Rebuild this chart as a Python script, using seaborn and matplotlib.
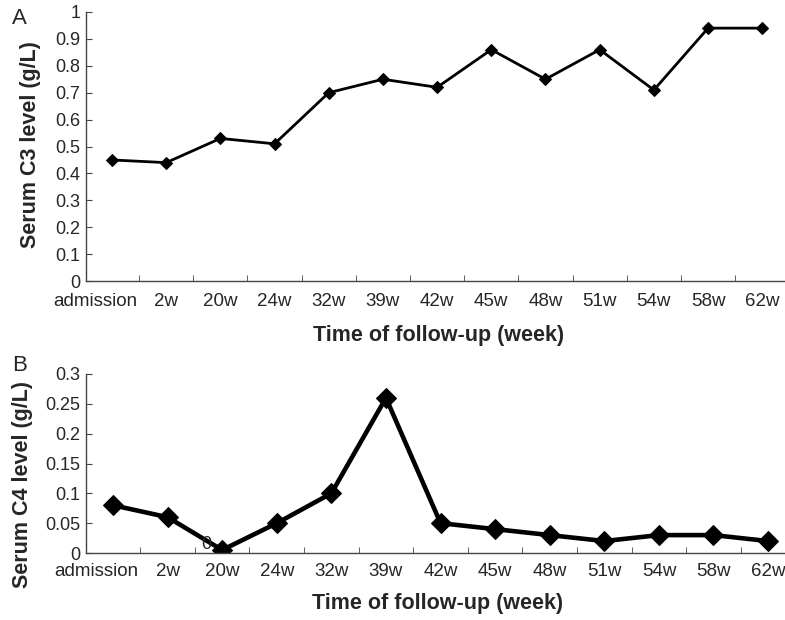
import numpy as np
import pandas as pd
import matplotlib
matplotlib.use("Agg")
import matplotlib.pyplot as plt
import matplotlib.transforms as mtransforms
import seaborn as sns
from matplotlib.ticker import MultipleLocator

# dados
semanas = ["admission", "2w", "20w", "24w", "32w", "39w", "42w",
           "45w", "48w", "51w", "54w", "58w", "62w"]
c3 = [0.45, 0.44, 0.53, 0.51, 0.70, 0.75, 0.72, 0.86, 0.75, 0.86, 0.71, 0.94, 0.94]
c4 = [0.08, 0.06, 0.005, 0.05, 0.10, 0.26, 0.05, 0.04, 0.03, 0.02, 0.03, 0.03, 0.02]
c3_ticks = [0, 0.1, 0.2, 0.3, 0.4, 0.5, 0.6, 0.7, 0.8, 0.9, 1]
c4_ticks = [0, 0.05, 0.1, 0.15, 0.2, 0.25, 0.3]

sns.set_style("ticks")
plt.rcParams["font.family"] = ["Liberation Sans", "DejaVu Sans"]

dados = pd.DataFrame({"pos": np.arange(len(semanas)), "semana": semanas, "c3": c3, "c4": c4})

fig = plt.figure(figsize=(7.85, 6.2), dpi=100)
ax1 = fig.add_axes([86 / 785, 1 - 281 / 620, 699 / 785, 269 / 620])
ax2 = fig.add_axes([86 / 785, 1 - 553 / 620, 699 / 785, 179 / 620])


def ajeita(ax, ticks, label, xlim, pad):
    ax.set_xlim(*xlim)
    ax.set_ylim(ticks[0], ticks[-1])
    ax.set_yticks(ticks)
    ax.set_yticklabels([("%g" % t) for t in ticks], fontsize=13)
    ax.set_xticks(dados["pos"])
    ax.set_xticklabels(semanas, fontsize=13.5)
    ax.xaxis.set_minor_locator(MultipleLocator(1, offset=0.5))
    ax.tick_params(axis="x", which="major", length=0, pad=pad)
    ax.tick_params(axis="x", which="minor", direction="in", length=4, color="#444444")
    ax.tick_params(axis="y", direction="in", length=4, color="#444444", pad=4)
    for s in ["top", "right"]:
        ax.spines[s].set_visible(False)
    for s in ["left", "bottom"]:
        ax.spines[s].set_color("#444444")
        ax.spines[s].set_linewidth(1)
    ax.set_ylabel(label, fontsize=15.5, fontweight="bold")
    ax.set_xlabel("Time of follow-up (week)", fontsize=15.5, fontweight="bold")
    # admission fica deslocado pra esquerda
    lbl = ax.get_xticklabels()[0]
    lbl.set_transform(lbl.get_transform() +
                      mtransforms.ScaledTranslation(-17 / 100, 0, fig.dpi_scale_trans))


#C3
sns.lineplot(data=dados, x="pos", y="c3", ax=ax1, color="black", linewidth=2,
             marker="D", markersize=6.5, markeredgecolor="black")
ajeita(ax1, c3_ticks, "Serum C3 level (g/L)", (-0.48, 12.42), 9)
ax1.yaxis.set_label_coords(-0.064, 0.506)
ax1.xaxis.set_label_coords(0.504, -0.162)

#C4
sns.lineplot(data=dados, x="pos", y="c4", ax=ax2, color="black", linewidth=3.3,
             marker="D", markersize=10, markeredgecolor="black")
ajeita(ax2, c4_ticks, "Serum C4 level (g/L)", (-0.495, 12.31), 7.5)
ax2.yaxis.set_label_coords(-0.076, 0.38)
ax2.xaxis.set_label_coords(0.503, -0.226)
ax2.text(1.7, 0.0, "0", fontsize=13, va="bottom", ha="center")

fig.text(12 / 785, 1 - 8 / 620, "A", fontsize=16, va="top")
fig.text(12 / 785, 1 - 355 / 620, "B", fontsize=16, va="top")

fig.savefig("out.png", dpi=100)
